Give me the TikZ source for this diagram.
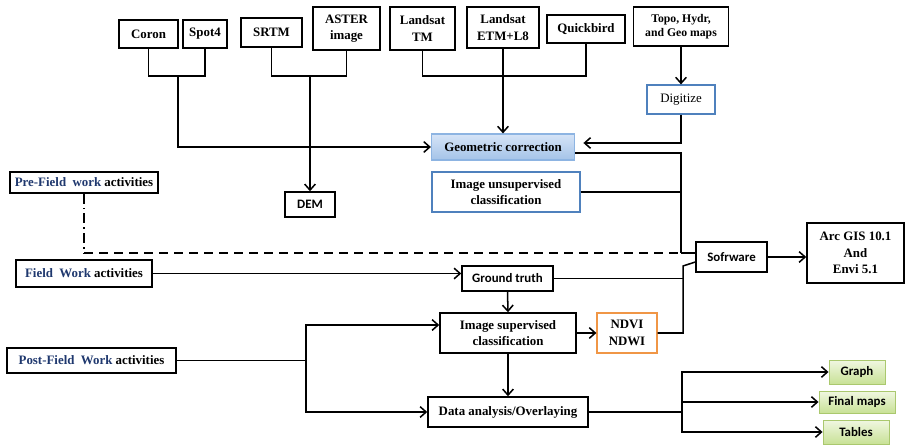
\documentclass[tikz,border=0pt]{standalone}
\usepackage{fontspec}
\setmainfont{Liberation Serif}
\newfontfamily\calfont{Carlito}
\usetikzlibrary{arrows.meta}

\definecolor{boxblue}{RGB}{79,129,189}
\definecolor{lightblue}{RGB}{214,228,247}
\definecolor{midblue}{RGB}{141,180,226}
\definecolor{boxorange}{RGB}{240,150,70}
\definecolor{lightgreen}{RGB}{240,247,225}
\definecolor{midgreen}{RGB}{200,225,150}
\definecolor{boxgreen}{RGB}{170,200,110}
\definecolor{navytext}{RGB}{31,56,110}

\begin{document}
\begin{tikzpicture}[
        x=0.03cm, y=-0.03cm,
        line width=1.3pt,
        >={Straight Barb[length=1.8mm,width=3.2mm]},
    ]

    \tikzstyle{box} = [rectangle, draw=black, line width=1.3pt, align=center,
                       inner sep=1pt, font=\fontsize{11}{14}\selectfont\bfseries]
    \tikzstyle{calbox} = [box, font=\fontsize{11}{14}\selectfont\calfont\bfseries]
    \tikzstyle{bluebox} = [box, draw=boxblue, line width=1pt]
    \tikzstyle{geobox} = [bluebox, draw=midblue, top color=lightblue, bottom color=midblue!80]
    \tikzstyle{orangebox} = [box, draw=boxorange, line width=1pt]
    \tikzstyle{greenbox} = [calbox, draw=boxgreen, line width=0.8pt,
                            top color=lightgreen, bottom color=midgreen]
    \tikzstyle{dashline} = [dash pattern=on 0.27cm off 0.18cm]
    \tikzstyle{dotline} = [dash pattern=on 0.3cm off 0.12cm on 0.05cm off 0.12cm]

    \useasboundingbox (0,0) rectangle (905,446);

    % Nodes
    \node[box, minimum width=1.77cm, minimum height=0.84cm] (coron) at (148.5,34) {Coron};
    \node[box, minimum width=1.32cm, minimum height=0.84cm] (spot) at (205,34) {Spot4};
    \node[box, minimum width=1.83cm, minimum height=0.87cm] (srtm) at (271.5,32.5) {SRTM};
    \node[box, minimum width=2.01cm, minimum height=1.29cm] (aster) at (346.5,28.5) {ASTER\\image};
    \node[box, minimum width=1.95cm, minimum height=1.29cm] (lstm) at (422.5,28.5) {Landsat\\TM};
    \node[box, minimum width=2.16cm, minimum height=1.23cm] (lsetm) at (503,27.5) {Landsat\\ETM+L8};
    \node[box, minimum width=2.34cm, minimum height=0.84cm] (quick) at (586,29) {Quickbird};
    \node[box, minimum width=2.85cm, minimum height=1.17cm,
          font=\fontsize{10}{12}\selectfont\bfseries] (topo) at (681,26.5) {Topo, Hydr,\\and Geo maps};
    \node[bluebox, minimum width=2.04cm, minimum height=0.87cm,
          font=\fontsize{11}{14}\selectfont] (digit) at (681,99.5) {Digitize};
    \node[geobox, minimum width=4.29cm, minimum height=0.78cm] (geo) at (503,147) {Geometric correction};
    \node[bluebox, minimum width=4.44cm, minimum height=1.2cm] (unsup) at (506,192) {Image unsupervised\\classification};
    \node[calbox, minimum width=1.5cm, minimum height=0.75cm] (dem) at (310,204.5) {DEM};

    \node[box, minimum width=4.44cm, minimum height=0.63cm] (pre) at (84,182.5)
        {\textcolor{navytext}{Pre-Field\ \ work} activities};
    \node[box, minimum width=4.08cm, minimum height=0.81cm] (field) at (84,273.5)
        {\textcolor{navytext}{Field\ \ Work} activities};
    \node[box, minimum width=5.07cm, minimum height=0.75cm] (post) at (91.5,360.5)
        {\textcolor{navytext}{Post-Field\ \ Work} activities};

    \node[calbox, minimum width=2.73cm, minimum height=0.75cm] (ground) at (507.5,278.5) {Ground truth};
    \node[box, minimum width=4.08cm, minimum height=1.2cm] (sup) at (508,333) {Image supervised\\classification};
    \node[orangebox, minimum width=1.8cm, minimum height=1.2cm] (ndvi) at (627,333) {NDVI\\NDWI};
    \node[box, minimum width=4.8cm, minimum height=0.9cm] (data) at (508,412) {Data analysis/Overlaying};
    \node[calbox, minimum width=2.13cm, minimum height=0.9cm] (soft) at (731.5,257) {Sofrware};
    \node[box, minimum width=2.91cm, minimum height=1.8cm] (arc) at (855.5,253) {Arc GIS 10.1\\And\\Envi 5.1};
    \node[greenbox, minimum width=1.68cm, minimum height=0.72cm] (graph) at (857,372) {Graph};
    \node[greenbox, minimum width=2.28cm, minimum height=0.66cm] (maps) at (857,402) {Final maps};
    \node[greenbox, minimum width=1.98cm, minimum height=0.72cm] (tables) at (856,432) {Tables};

    % Junctions
    \coordinate (jcs) at (178,76);
    \coordinate (jsa) at (310,76);
    \coordinate (jlq) at (503,76);
    \coordinate (jtop) at (681,253);
    \coordinate (jbot) at (683,266);
    \coordinate (jpost) at (306,360.5);
    \coordinate (jout) at (682,412);

    % Arrows
    \draw (coron.south) |- (jcs) -| (spot.south);
    \draw[->] (jcs) |- (geo.west);
    \draw (srtm.south) |- (jsa) -| (aster.south);
    \draw[->] (jsa) -- (dem.north);
    \draw (lstm.south) |- (jlq) -| (quick.south);
    \draw[->] (lsetm.south) -- (geo.north);
    \draw[->] (topo.south) -- (digit.north);
    \draw[->] (digit.south) |- ([xshift=0.25cm, yshift=0.12cm]geo.east);

    % Lines into the software box
    \draw ([yshift=-0.18cm]geo.east) -| (jtop);
    \draw (unsup.east) -- (unsup.east -| jtop);
    \draw (jtop) -- ([yshift=0.12cm]soft.west);
    \draw (ground.east) -- (ground.east -| jbot);
    \draw (ndvi.east) -| (jbot) -- ([yshift=-0.15cm]soft.west);
    \draw[->] (soft.east) -- (soft.east -| arc.west);

    % Activities
    \draw[dotline] (pre.south) -- (pre.south |- jtop);
    \draw[dashline] (pre.south |- jtop) -- (jtop);
    \draw[->] (field.east) -- (field.east -| ground.west);
    \draw (post.east) -- (post.east -| jpost);
    \draw[->] (jpost) |- ([yshift=0.24cm]sup.west);
    \draw[->] (jpost) |- (data.west);

    % Classification and outputs
    \draw[->] (ground.south) -- (sup.north);
    \draw[->] (sup.south) -- (data.north);
    \draw[->] (sup.east) -- (ndvi.west);
    \draw (data.east) -- (jout);
    \draw[->] (jout) |- (graph.west);
    \draw[->] (jout) |- (maps.west);
    \draw[->] (jout) |- (tables.west);

    \end{tikzpicture}
\end{document}
